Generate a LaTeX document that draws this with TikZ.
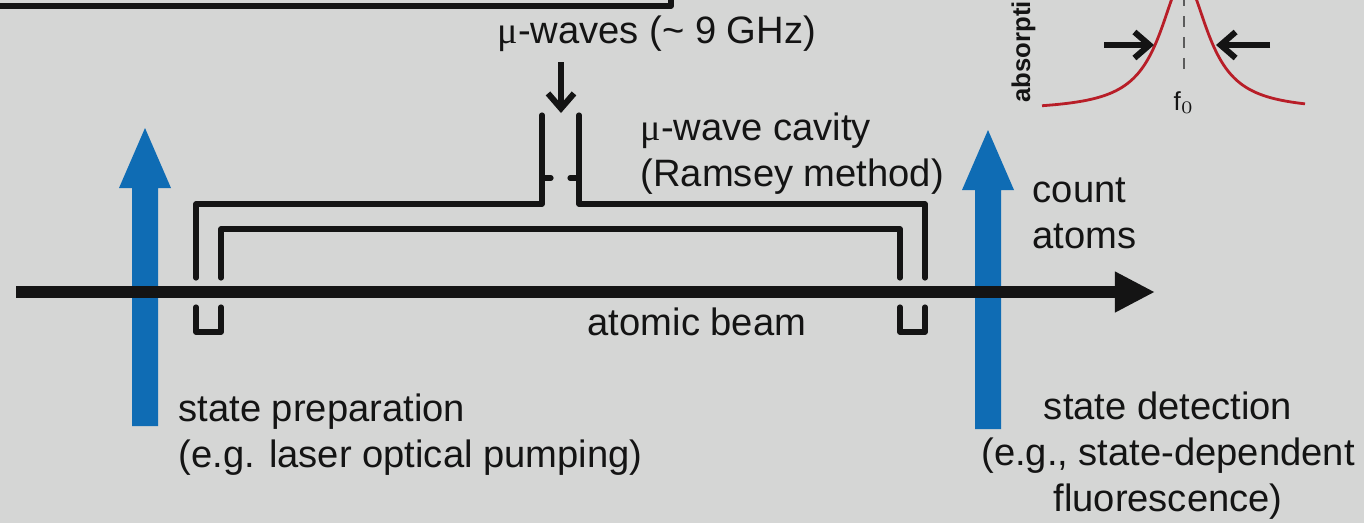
\documentclass[tikz,border=0pt]{standalone}
\usepackage{fontspec}
\setmainfont{Liberation Sans}
\newfontfamily\mufont{Liberation Serif}
\definecolor{BGcolor}{HTML}{D5D6D5}
\definecolor{PUMPcolor}{HTML}{0F6CB4}
\definecolor{LINEcolor}{HTML}{141414}
\definecolor{PEAKcolor}{HTML}{B81E28}
\usetikzlibrary{arrows.meta}
\usetikzlibrary{math}

\begin{document}
\begin{tikzpicture}[x=0.01cm, y=-0.01cm]

    \tikzset{%
        tube/.style={draw=LINEcolor, line width=0.052cm, line cap=round, line join=round},
        thinarrow/.style={draw=LINEcolor, line width=0.055cm, -{Straight Barb[length=0.15cm, width=0.26cm, line width=0.06cm]}},
        label/.style={anchor=base west, inner sep=0pt, align=left, text=LINEcolor,
                font=\fontsize{10.85pt}{13.08pt}\selectfont},
        pics/pump/.style={%
                code={%

                        \tikzmath{%
                            \shaftw=13;
                            \headw=26;
                            \headl=60;
                        };

                        \fill [PUMPcolor] (-\shaftw, #1) -- (-\shaftw, \headl) -- (-\headw, \headl)
                            -- (0, 0) -- (\headw, \headl) -- (\shaftw, \headl) -- (\shaftw, #1) -- cycle;

                    }
            }
    }

    \useasboundingbox (0, 0) rectangle (1364, 523);
    \clip (0, 0) rectangle (1364, 523);
    \fill [BGcolor] (0, 0) rectangle (1364, 523);

    % box cut by the top edge
    \draw [tube] (-10, 6) -- (671, 6) -- (671, -10);

    \pic at (145, 128) {pump=298};
    \pic at (988, 130) {pump=299};

    % cavity
    \draw [tube] (196, 278) -- (196, 204) -- (542, 204) -- (542, 115);
    \draw [tube] (579, 115) -- (579, 204) -- (925, 204) -- (925, 278);
    \draw [tube] (221, 278) -- (221, 229) -- (900, 229) -- (900, 278);
    \draw [tube] (196, 307) -- (196, 332) -- (221, 332) -- (221, 307);
    \draw [tube] (900, 307) -- (900, 332) -- (925, 332) -- (925, 307);
    \draw [tube] (542, 178) -- (551, 178);
    \draw [tube] (570, 178) -- (579, 178);

    % beam
    \coordinate (beamstart) at (16, 292);
    \coordinate (beamend) at (1155, 292);
    \draw [LINEcolor, line width=0.12cm, -{Triangle[length=0.4cm, width=0.38cm]}] (beamstart) -- (beamend);

    \coordinate (waveA) at (561, 62);
    \coordinate (waveB) at (561, 113);
    \draw [thinarrow] (waveA) -- (waveB);

    % line shape
    \draw [PEAKcolor, line width=0.028cm] plot [smooth, samples=90, domain=-142:121]
        ({1184+\x}, {111-132/(1+(\x/29)^2)});
    \draw [LINEcolor!70, line width=0.02cm, dashed] (1184, -5) -- (1184, 72);
    \coordinate (widthA) at (1104, 45);
    \coordinate (widthB) at (1154, 45);
    \coordinate (widthC) at (1270, 45);
    \coordinate (widthD) at (1216, 45);
    \draw [thinarrow] (widthA) -- (widthB);
    \draw [thinarrow] (widthC) -- (widthD);
    \node [anchor=base, inner sep=0pt, text=LINEcolor, font=\fontsize{7.4pt}{8pt}\selectfont] (f0) at (1184, 110) {f$_0$};
    \node [anchor=base west, rotate=90, inner sep=0pt, text=LINEcolor, font=\fontsize{7.3pt}{8pt}\selectfont\bfseries] (absorption) at (1030, 103) {absorption};

    \node [label] (waves) at (497, 43) {{\mufont μ}-waves (\textasciitilde{} 9 GHz)};
    \node [label] (cavity) at (640, 186) {{\mufont μ}-wave cavity\\(Ramsey method)};
    \node [label] (count) at (1032, 248) {count\\atoms};
    \node [label] (beam) at (587, 335) {atomic beam};
    \node [label] (prep) at (178, 467) {state preparation\\(e.g. laser optical pumping)};
    \node [label, align=center, anchor=base] (detect) at (1168, 511) {state detection\\(e.g., state-dependent\\fluorescence)};

\end{tikzpicture}
\end{document}
